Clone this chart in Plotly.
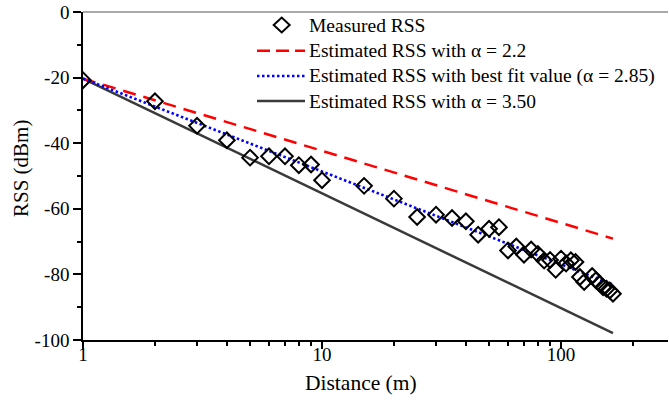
import plotly.graph_objects as go

# Measured received signal strength vs. distance
distance_m = [1, 2, 3, 4, 5, 6, 7, 8, 9, 10, 15, 20, 25, 30, 35, 40, 45, 50, 55,
              60, 65, 70, 75, 80, 85, 90, 95, 100, 105, 110, 115, 120, 125, 135,
              140, 145, 150, 155, 160, 165]
rss_measured = [-20.8, -27.2, -34.7, -39.1, -44.4, -44.0, -44.0, -46.7, -46.5, -51.3,
                -53.0, -56.9, -62.5, -61.8, -62.8, -63.8, -67.9, -66.1, -65.6,
                -72.7, -71.5, -74.0, -72.4, -73.8, -75.8, -75.6, -78.6, -75.2, -76.7,
                -75.7, -76.2, -80.8, -82.3, -80.5, -81.8, -82.8, -83.9, -84.4, -84.9,
                -85.9]

# Log-distance path loss model lines (end points at 1 m and 165 m)
model_distance = [1, 165]
rss_alpha_22 = [-20.3, -69.1]
rss_alpha_285 = [-20.3, -83.1]
rss_alpha_350 = [-20.3, -97.9]

legend_labels = [
    "Measured RSS",
    "Estimated RSS with \u03b1 = 2.2",
    "Estimated RSS with best fit value (\u03b1 = 2.85)",
    "Estimated RSS with \u03b1 = 3.50",
]

x_tick_vals = [1, 10, 100]
x_tick_text = ["1", "10", "100"]
y_tick_vals = [0, -20, -40, -60, -80, -100]
y_tick_text = ["0", "-20", "-40", "-60", "-80", "-100"]

W, H = 669, 406
ML, MR, MT, MB = 83, 1, 12, 66
PW, PH = W - ML - MR, H - MT - MB
FONT = "Liberation Serif"


def px_x(px):
    return (px - ML) / PW


def px_y(py):
    return (H - MB - py) / PH


RED = "#ff0000"
BLUE = "#0000ff"
DARK = "#3a3a3a"

fig = go.Figure()
fig.add_trace(go.Scatter(x=model_distance, y=rss_alpha_350, mode="lines",
                         name=legend_labels[3],
                         line=dict(color=DARK, width=2.5)))
fig.add_trace(go.Scatter(x=model_distance, y=rss_alpha_22, mode="lines",
                         name=legend_labels[1],
                         line=dict(color=RED, width=2.5, dash="13px,8px")))
fig.add_trace(go.Scatter(x=model_distance, y=rss_alpha_285, mode="lines",
                         name=legend_labels[2],
                         line=dict(color=BLUE, width=2.6, dash="2.5px,2.5px")))
fig.add_trace(go.Scatter(x=distance_m, y=rss_measured, mode="markers",
                         name=legend_labels[0],
                         marker=dict(symbol="diamond-open", size=12,
                                     color="black", line=dict(width=2))))

# Hand-placed legend: samples as shapes, labels as annotations
row_y = [25, 50.7, 76, 101]
sample_x0, sample_x1, text_x = 257, 305, 307
shapes = [
    # top frame line
    dict(type="line", xref="paper", yref="paper", x0=0, x1=1, y0=1, y1=1,
         line=dict(color="#8c8c8c", width=1.5)),
    dict(type="path", xref="paper", yref="paper", xsizemode="pixel",
         ysizemode="pixel", xanchor=px_x(281.7), yanchor=px_y(row_y[0]),
         path="M -8 0 L 0 7.5 L 8 0 L 0 -7.5 Z",
         line=dict(color="black", width=2)),
    dict(type="line", xref="paper", yref="paper",
         x0=px_x(sample_x0), x1=px_x(sample_x1),
         y0=px_y(row_y[1]), y1=px_y(row_y[1]),
         line=dict(color=RED, width=2.5, dash="13px,6px")),
    dict(type="line", xref="paper", yref="paper",
         x0=px_x(sample_x0), x1=px_x(sample_x1),
         y0=px_y(row_y[2]), y1=px_y(row_y[2]),
         line=dict(color=BLUE, width=2.6, dash="2.5px,2.5px")),
    dict(type="line", xref="paper", yref="paper",
         x0=px_x(sample_x0), x1=px_x(sample_x1),
         y0=px_y(row_y[3]), y1=px_y(row_y[3]),
         line=dict(color=DARK, width=2.5)),
]

annotations = []
for label, ry in zip(legend_labels, row_y):
    annotations.append(dict(text=label, xref="paper", yref="paper",
                            x=px_x(text_x), y=px_y(ry), xanchor="left",
                            yanchor="middle", showarrow=False,
                            font=dict(family=FONT, size=19.5, color="black")))

# Axis titles
annotations.append(dict(text="Distance (m)", xref="paper", yref="paper",
                        x=px_x(361), y=px_y(383), xanchor="center",
                        yanchor="middle", showarrow=False,
                        font=dict(family=FONT, size=21.5, color="black")))
annotations.append(dict(text="RSS (dBm)", xref="paper", yref="paper",
                        x=px_x(21), y=px_y(169), xanchor="center",
                        yanchor="middle", textangle=-90, showarrow=False,
                        font=dict(family=FONT, size=21, color="black")))

fig.update_layout(
    width=W, height=H,
    margin=dict(l=ML, r=MR, t=MT, b=MB, pad=0),
    paper_bgcolor="white", plot_bgcolor="white",
    showlegend=False,
    font=dict(family=FONT, size=18, color="black"),
    shapes=shapes,
    annotations=annotations,
)

fig.update_xaxes(
    type="log", range=[0, 2.4477],
    tickmode="array", tickvals=x_tick_vals, ticktext=x_tick_text,
    showline=True, linecolor="black", linewidth=1.5,
    ticks="outside", ticklen=7, tickwidth=1.5, tickcolor="black",
    minor=dict(dtick="D1", ticks="outside", ticklen=4, tickwidth=1.5,
               tickcolor="black", showgrid=False),
    showgrid=False, zeroline=False, ticklabelstandoff=-11,
    tickfont=dict(family=FONT, size=19, color="black"),
)
fig.update_yaxes(
    range=[-100, 0],
    tickmode="array", tickvals=y_tick_vals, ticktext=y_tick_text,
    showline=True, linecolor="black", linewidth=1.5,
    ticks="outside", ticklen=8, tickwidth=1.5, tickcolor="black",
    minor=dict(dtick=10, ticks="outside", ticklen=4, tickwidth=1.5,
               tickcolor="black", showgrid=False),
    showgrid=False, zeroline=False,
    tickfont=dict(family=FONT, size=19, color="black"),
)

fig.write_html("out.html")
